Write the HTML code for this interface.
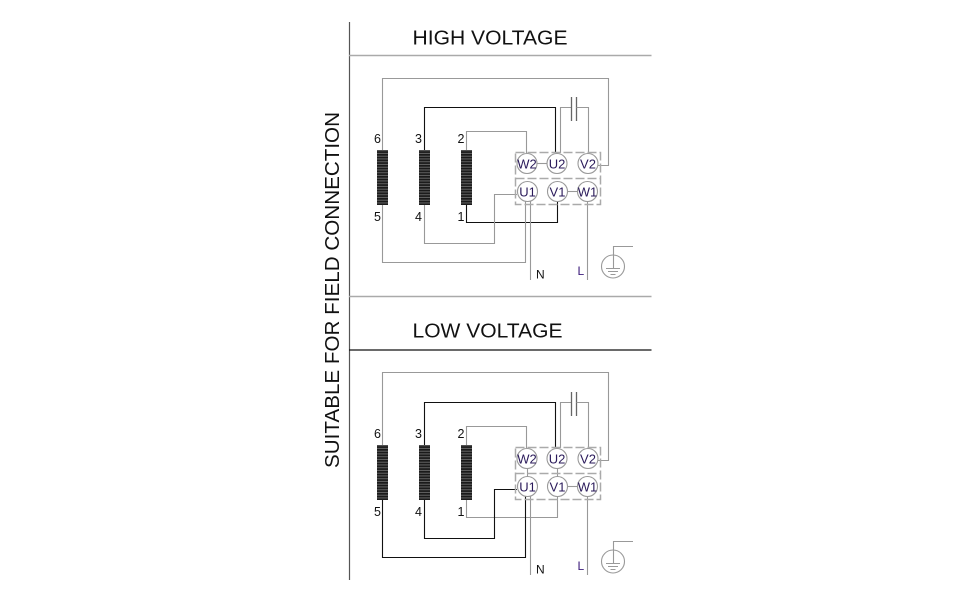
<!DOCTYPE html>
<html><head><meta charset="utf-8"><style>
html,body{margin:0;padding:0;background:#fff;}
svg{display:block;}
text{font-family:"Liberation Sans",Arial,sans-serif;}
</style></head><body>
<svg width="976" height="600" viewBox="0 0 976 600" xmlns="http://www.w3.org/2000/svg">
<defs>
<pattern id="coil" x="0" y="0" width="11" height="2.75" patternUnits="userSpaceOnUse">
<rect width="11" height="2.75" fill="#1a1a1a"/>
<rect y="1.75" width="11" height="0.9" fill="#6a6a6a"/>
</pattern>
</defs>

<!-- frame lines -->
<line x1="349.5" y1="22" x2="349.5" y2="580" stroke="#555" stroke-width="1.2"/>
<line x1="349" y1="55.5" x2="651.5" y2="55.5" stroke="#aaa" stroke-width="1.5"/>
<line x1="349" y1="296.5" x2="651.5" y2="296.5" stroke="#aaa" stroke-width="1.5"/>
<line x1="349" y1="350" x2="651.5" y2="350" stroke="#111" stroke-width="1.3"/>

<text x="412.5" y="44.5" font-size="20" textLength="155" lengthAdjust="spacingAndGlyphs" fill="#111">HIGH VOLTAGE</text>
<text x="412.5" y="337.7" font-size="20" textLength="150" lengthAdjust="spacingAndGlyphs" fill="#111">LOW VOLTAGE</text>
<text transform="translate(339,290) rotate(-90)" x="0" y="0" text-anchor="middle" font-size="20.5" textLength="356" lengthAdjust="spacingAndGlyphs" fill="#111">SUITABLE FOR FIELD CONNECTION</text>

<!-- ================= HIGH VOLTAGE ================= -->
<g fill="none" stroke-width="1.1">
<path d="M382.5 150 V78.5 H608.5 V165.5 H598" stroke="#999"/>
<path d="M424.5 150 V107.5 H555.5 V153" stroke="#111"/>
<path d="M560.5 153 V107.5 H571.5" stroke="#999"/>
<path d="M571.5 97 V121 M576.5 97 V121" stroke="#666" stroke-width="1.3"/>
<path d="M576.5 107.5 H588.5 V153" stroke="#999"/>
<path d="M466.5 150 V131.5 H526.5 V153" stroke="#999"/>
<path d="M537 163.5 H547" stroke="#999"/>
<path d="M567 191.5 H577.5" stroke="#999"/>
<path d="M466.5 205 V222.5 H557.5 V201.5" stroke="#111"/>
<path d="M424.5 205 V243.5 H494.5 V194.5 H517" stroke="#999"/>
<path d="M382.5 205 V262.5 H525.5 V201" stroke="#999"/>
<path d="M530.5 201 V280" stroke="#999"/>
<path d="M587.5 201.5 V280" stroke="#999"/>
</g>
<rect x="377" y="150" width="11" height="55" fill="url(#coil)"/>
<rect x="419" y="150" width="11" height="55" fill="url(#coil)"/>
<rect x="461" y="150" width="11" height="55" fill="url(#coil)"/>
<g fill="none" stroke="#aaa" stroke-width="1.5" stroke-dasharray="9,3">
<rect x="515.5" y="152.5" width="85" height="52"/>
<line x1="515.5" y1="178.5" x2="600.5" y2="178.5"/>
</g>
<g fill="#fff" stroke="#999" stroke-width="1.1">
<circle cx="527" cy="163.5" r="10"/>
<circle cx="557" cy="163.5" r="10"/>
<circle cx="588" cy="163.5" r="10"/>
<circle cx="527.5" cy="191.5" r="10"/>
<circle cx="557.5" cy="191.5" r="10"/>
<circle cx="587.5" cy="191.5" r="10"/>
</g>
<g font-size="13" fill="#2a1a5a" text-anchor="middle">
<text x="527" y="168.3">W2</text>
<text x="557" y="168.3">U2</text>
<text x="588" y="168.3">V2</text>
<text x="527.5" y="196.3">U1</text>
<text x="557.5" y="196.3">V1</text>
<text x="587.5" y="196.3">W1</text>
</g>
<g font-size="12.5" fill="#111">
<text x="374" y="143">6</text>
<text x="415" y="143">3</text>
<text x="457.5" y="143">2</text>
<text x="374" y="221">5</text>
<text x="415" y="221">4</text>
<text x="457.5" y="221">1</text>
</g>
<text x="536" y="278.5" font-size="12" fill="#111">N</text>
<text x="577.5" y="275" font-size="12" fill="#3a1a7a">L</text>
<g fill="none" stroke="#999" stroke-width="1.1">
<path d="M613.5 268 V246.5 H633"/>
<circle cx="613" cy="266.5" r="11.5"/>
<path d="M606 268.5 H620 M608 271.5 H618 M610.5 274.5 H615.5"/>
</g>

<!-- ================= LOW VOLTAGE ================= -->
<g transform="translate(0,295)">
<g fill="none" stroke-width="1.1">
<path d="M382.5 150 V77.5 H608.5 V165.5 H598" stroke="#999"/>
<path d="M424.5 150 V107.5 H555.5 V153" stroke="#111"/>
<path d="M560.5 153 V107.5 H571.5" stroke="#999"/>
<path d="M571.5 97 V121 M576.5 97 V121" stroke="#666" stroke-width="1.3"/>
<path d="M576.5 107.5 H588.5 V153" stroke="#999"/>
<path d="M466.5 150 V131.5 H526.5 V153" stroke="#999"/>
<path d="M527.5 173.5 V181.5" stroke="#999"/>
<path d="M557.5 173.5 V181.5" stroke="#999"/>
<path d="M567 191.5 H577.5" stroke="#999"/>
<path d="M466.5 205 V222.5 H557.5 V201.5" stroke="#999"/>
<path d="M424.5 205 V243.5 H494.5 V194.5 H517" stroke="#111"/>
<path d="M382.5 205 V262.5 H525.5 V201" stroke="#111"/>
<path d="M530.5 201 V280" stroke="#999"/>
<path d="M587.5 201.5 V280" stroke="#999"/>
</g>
<rect x="377" y="150" width="11" height="55" fill="url(#coil)"/>
<rect x="419" y="150" width="11" height="55" fill="url(#coil)"/>
<rect x="461" y="150" width="11" height="55" fill="url(#coil)"/>
<g fill="none" stroke="#aaa" stroke-width="1.5" stroke-dasharray="9,3">
<rect x="515.5" y="152.5" width="85" height="52"/>
<line x1="515.5" y1="178.5" x2="600.5" y2="178.5"/>
</g>
<g fill="#fff" stroke="#999" stroke-width="1.1">
<circle cx="527" cy="163.5" r="10"/>
<circle cx="557" cy="163.5" r="10"/>
<circle cx="588" cy="163.5" r="10"/>
<circle cx="527.5" cy="191.5" r="10"/>
<circle cx="557.5" cy="191.5" r="10"/>
<circle cx="587.5" cy="191.5" r="10"/>
</g>
<g font-size="13" fill="#2a1a5a" text-anchor="middle">
<text x="527" y="168.3">W2</text>
<text x="557" y="168.3">U2</text>
<text x="588" y="168.3">V2</text>
<text x="527.5" y="196.3">U1</text>
<text x="557.5" y="196.3">V1</text>
<text x="587.5" y="196.3">W1</text>
</g>
<g font-size="12.5" fill="#111">
<text x="374" y="143">6</text>
<text x="415" y="143">3</text>
<text x="457.5" y="143">2</text>
<text x="374" y="221">5</text>
<text x="415" y="221">4</text>
<text x="457.5" y="221">1</text>
</g>
<text x="536" y="278.5" font-size="12" fill="#111">N</text>
<text x="577.5" y="275" font-size="12" fill="#3a1a7a">L</text>
<g fill="none" stroke="#999" stroke-width="1.1">
<path d="M613.5 268 V246.5 H633"/>
<circle cx="613" cy="266.5" r="11.5"/>
<path d="M606 268.5 H620 M608 271.5 H618 M610.5 274.5 H615.5"/>
</g>
</g>
</svg>
</body></html>
